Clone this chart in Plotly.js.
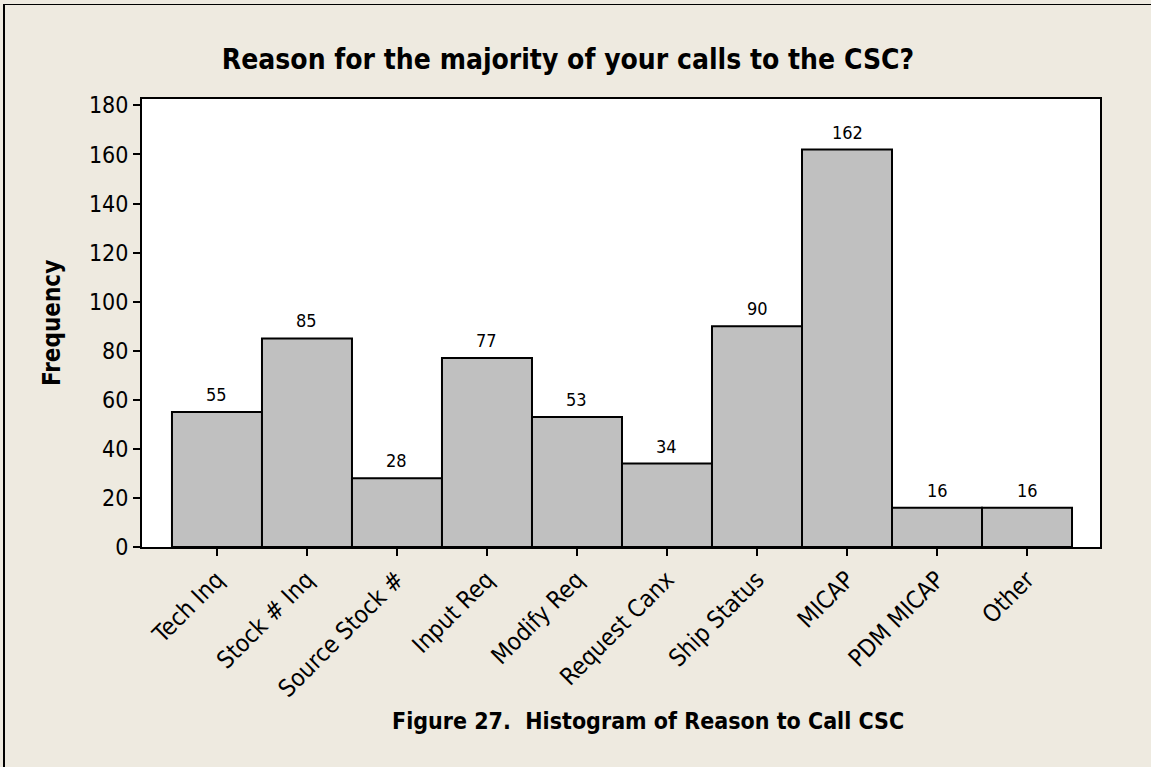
<!DOCTYPE html>
<html>
<head>
<meta charset="utf-8">
<script src="https://cdn.plot.ly/plotly-3.0.1.min.js"></script>
<style>
html,body{margin:0;padding:0;background:#EEEAE0;}
#chart{width:1151px;height:767px;position:absolute;left:0;top:0;}
#frame{position:absolute;left:3px;top:4px;width:1148px;height:763px;border-left:2px solid #000;border-top:1px solid #000;box-sizing:border-box;pointer-events:none;}
</style>
</head>
<body>
<div id="chart"></div>
<div id="frame"></div>
<script>
const categories = ["Tech Inq","Stock # Inq","Source Stock #","Input Req","Modify Req","Request Canx","Ship Status","MICAP","PDM MICAP","Other"];
const frequencies = [55,85,28,77,53,34,90,162,16,16];
const yTicks = [0,20,40,60,80,100,120,140,160,180];
const chartTitle = "Reason for the majority of your calls to the CSC?";
const yTitle = "Frequency";
const caption = "Figure 27. \u00a0Histogram of Reason to Call CSC";

const FONT = "'DejaVu Sans Condensed', 'DejaVu Sans', sans-serif";
const W = 1151, H = 767;
const L = 142, R = 1100, T = 99, B = 547;
const pw = R - L, ph = B - T;
const px2paperX = x => (x - L) / pw;
const px2paperY = y => (B - y) / ph;

const trace = {
  type: 'bar',
  x: categories,
  y: frequencies,
  marker: {color: '#C0C0C0', line: {color: '#000000', width: 2}},
  hoverinfo: 'x+y'
};

const valueLabels = categories.map((c, i) => ({
  x: c, y: frequencies[i], xref: 'x', yref: 'y',
  text: String(frequencies[i]), showarrow: false,
  yanchor: 'bottom', yshift: 5,
  font: {family: FONT, size: 18, color: '#000'}
}));

const layout = {
  width: W, height: H,
  paper_bgcolor: '#EEEAE0',
  plot_bgcolor: '#FFFFFF',
  margin: {l: L, r: W - R, t: T, b: H - B, pad: 0},
  bargap: 0,
  showlegend: false,
  title: {
    text: '<b>' + chartTitle + '</b>',
    xref: 'container', yref: 'container',
    x: 568 / W, y: 1 - 59 / H, xanchor: 'center', yanchor: 'middle',
    font: {family: FONT, size: 28, color: '#000'}
  },
  xaxis: {
    range: [-0.833, 9.811],
    showline: true, mirror: true, linecolor: '#000', linewidth: 2,
    ticks: 'outside', ticklen: 7, tickwidth: 2, tickcolor: '#000',
    tickangle: -45,
    tickfont: {family: FONT, size: 24, color: '#000'},
    showgrid: false, zeroline: false, fixedrange: true
  },
  yaxis: {
    range: [0, 182.6],
    tickvals: yTicks,
    showline: true, mirror: true, linecolor: '#000', linewidth: 2,
    ticks: 'outside', ticklen: 7, tickwidth: 2, tickcolor: '#000',
    tickfont: {family: FONT, size: 23, color: '#000'},
    showgrid: false, zeroline: false, fixedrange: true
  },
  annotations: valueLabels.concat([
    {
      text: '<b>' + yTitle + '</b>', xref: 'paper', yref: 'paper',
      x: px2paperX(52), y: px2paperY(323), textangle: -90,
      xanchor: 'center', yanchor: 'middle', showarrow: false,
      font: {family: FONT, size: 24, color: '#000'}
    },
    {
      text: '<b>' + caption + '</b>', xref: 'paper', yref: 'paper',
      x: px2paperX(648), y: px2paperY(721),
      xanchor: 'center', yanchor: 'middle', showarrow: false,
      font: {family: FONT, size: 23, color: '#000'}
    }
  ])
};

Plotly.newPlot('chart', [trace], layout, {displayModeBar: false, staticPlot: true});
</script>
</body>
</html>
